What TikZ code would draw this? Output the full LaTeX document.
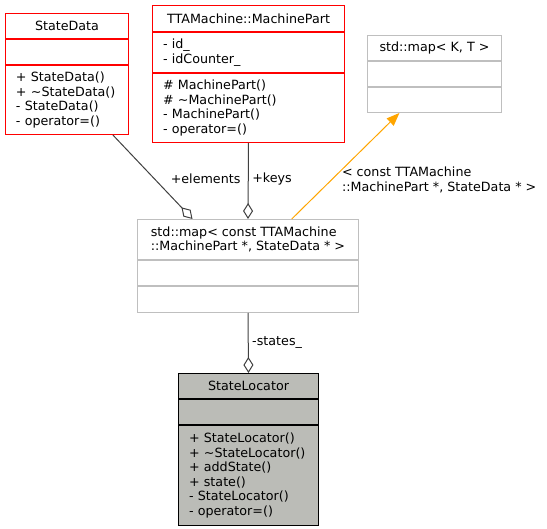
\documentclass[tikz,border=0pt]{standalone}
\usepackage{fontspec}
\setmainfont{DejaVu Sans}
\usepackage{tikz}
\usetikzlibrary{calc}
\usetikzlibrary{arrows.meta}

\definecolor{undocred}{HTML}{FF0000}
\definecolor{grey75}{HTML}{BFBFBF}
\definecolor{mainfill}{HTML}{BBBCB7}
\definecolor{grey25}{HTML}{404040}
\definecolor{tmplorange}{HTML}{FFA500}

\newcommand{\umlsize}{\fontsize{12.7pt}{14.6pt}\selectfont}

\tikzset{
    compart/.style={draw, rectangle, anchor=north west, inner sep=0pt, line width=1pt, font=\umlsize},
    titlepart/.style={compart, minimum width=#1, align=center},
    bodypart/.style={compart, text width=#1-21pt, inner xsep=10.5pt, align=left},
    aggr/.style={grey25, line width=1pt, -{Diamond[fill=white, length=16pt, width=10pt]}},
    tmpl/.style={tmplorange, line width=1pt, -{Triangle[length=13pt, width=10pt]}},
    edgelabel/.style={inner sep=0pt, font=\umlsize, text=black}
}

\begin{document}
\begin{tikzpicture}[x=1pt, y=-1pt]

        \useasboundingbox (0,0) rectangle (547,529);

        % StateData
        \node[titlepart=123pt, undocred, text=black, minimum height=25pt] (sdata-t) at (5,13) {StateData};
        \node[titlepart=123pt, undocred, minimum height=25pt] (sdata-a) at (sdata-t.south west) {};
        \node[bodypart=123pt, undocred, text=black, minimum height=69pt] (sdata-m) at (sdata-a.south west) {+ StateData()\\+ \textasciitilde StateData()\\- StateData()\\- operator=()};

        % TTAMachine::MachinePart
        \node[titlepart=192pt, undocred, text=black, minimum height=26pt] (mpart-t) at (152,5) {TTAMachine::MachinePart};
        \node[bodypart=192pt, undocred, text=black, minimum height=40pt] (mpart-a) at (mpart-t.south west) {- id\_\\- idCounter\_};
        \node[bodypart=192pt, undocred, text=black, minimum height=69pt] (mpart-m) at (mpart-a.south west) {\# MachinePart()\\\# \textasciitilde MachinePart()\\- MachinePart()\\- operator=()};

        % std::map< K, T >
        \node[titlepart=134pt, grey75, text=black, minimum height=25pt] (kmap-t) at (367,35) {std::map< K, T >};
        \node[titlepart=134pt, grey75, minimum height=25pt] (kmap-a) at (kmap-t.south west) {};
        \node[titlepart=134pt, grey75, minimum height=25pt] (kmap-m) at (kmap-a.south west) {};

        % std::map< const TTAMachine::MachinePart *, StateData * >
        \node[compart, grey75, text=black, minimum width=221pt, minimum height=40pt, align=left] (map-t) at (137,219) {std::map< const TTAMachine\\::MachinePart *, StateData * >};
        \node[titlepart=221pt, grey75, minimum height=25pt] (map-a) at (map-t.south west) {};
        \node[titlepart=221pt, grey75, minimum height=26pt] (map-m) at (map-a.south west) {};

        % StateLocator
        \node[titlepart=140pt, fill=mainfill, text=black, minimum height=25pt] (loc-t) at (178,373) {StateLocator};
        \node[titlepart=140pt, fill=mainfill, minimum height=25pt] (loc-a) at (loc-t.south west) {};
        \node[bodypart=140pt, fill=mainfill, text=black, minimum height=100pt] (loc-m) at (loc-a.south west) {+ StateLocator()\\+ \textasciitilde StateLocator()\\+ addState()\\+ state()\\- StateLocator()\\- operator=()};

        % connectors
        \draw[aggr] ($(sdata-m.south west)!0.87!(sdata-m.south east)$) -- node[edgelabel, pos=0.52, anchor=west, xshift=16pt]{+elements} ($(map-t.north west)!0.25!(map-t.north east)$);

        \draw[aggr] (mpart-m.south) -- node[edgelabel, pos=0.48, anchor=west, xshift=3.5pt]{+keys} (map-t.north);

        \draw[tmpl] ($(map-t.north west)!0.697!(map-t.north east)$) -- node[edgelabel, pos=0.37, anchor=west, xshift=10pt, align=left]{< const TTAMachine\\::MachinePart *, StateData * >} ($(kmap-m.south west)!0.24!(kmap-m.south east)$);

        \draw[aggr] (map-m.south) -- node[edgelabel, pos=0.49, anchor=west, xshift=3.5pt]{-states\_} (loc-t.north);

    \end{tikzpicture}
\end{document}
